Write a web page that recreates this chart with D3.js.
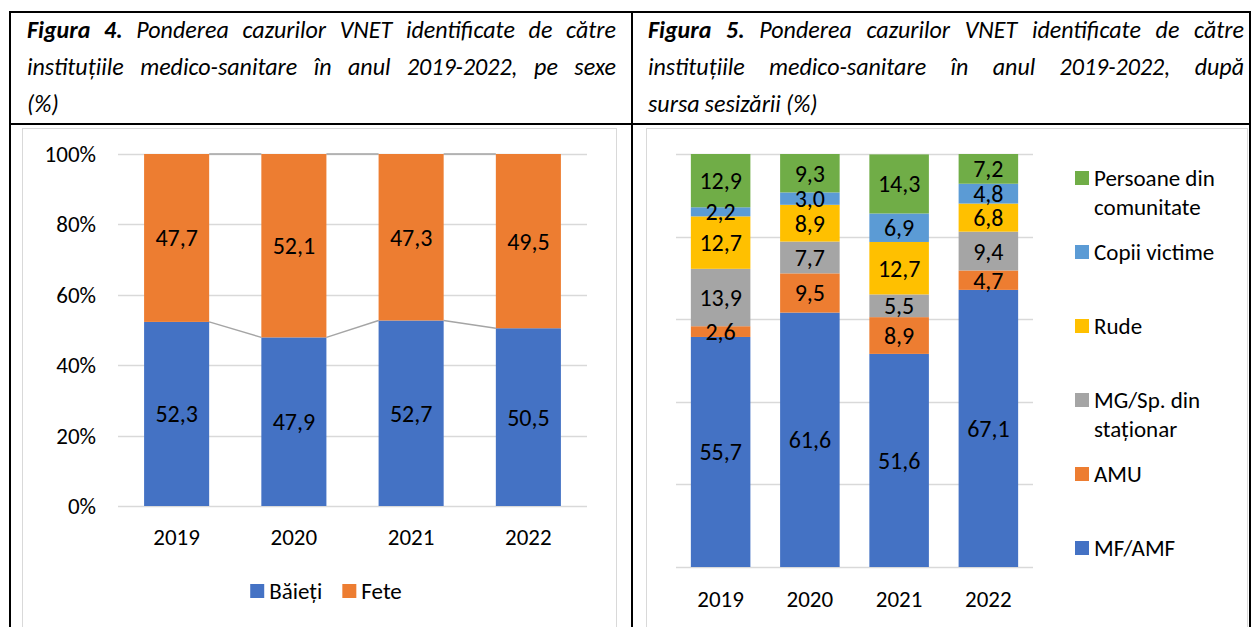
<!DOCTYPE html>
<meta charset="utf-8">
<style>
body { margin: 0; background: #fff; }
svg text { font-family: Calibri, Carlito, Lato, sans-serif; fill: #000; }
.cap { font-style: italic; font-size: 24px; }
.tick { font-size: 23px; }
.lbl { font-size: 24px; text-anchor: middle; dominant-baseline: central; }
.leg { font-size: 23px; dominant-baseline: central; }
</style>
<body>
<script src="https://d3js.org/d3.v7.min.js"></script>
<script>

// ---- data ----
var years = ["2019", "2020", "2021", "2022"];

// Figura 4: pe sexe
var sexes = ["Băieți", "Fete"];
var baieti = [52.3, 47.9, 52.7, 50.5];
var fete = [47.7, 52.1, 47.3, 49.5];
var pctTicks = [0, 20, 40, 60, 80, 100];

// Figura 5: dupa sursa sesizarii (stack order bottom -> top)
var sources = ["MF/AMF", "AMU", "MG/Sp. din staționar", "Rude", "Copii victime", "Persoane din comunitate"];
var mfAmf = [55.7, 61.6, 51.6, 67.1];
var amu = [2.6, 9.5, 8.9, 4.7];
var mgSp = [13.9, 7.7, 5.5, 9.4];
var rude = [12.7, 8.9, 12.7, 6.8];
var copii = [2.2, 3.0, 6.9, 4.8];
var persoane = [12.9, 9.3, 14.3, 7.2];

var caption4 = ["Figura 4. Ponderea cazurilor VNET identificate de către",
                "instituțiile medico-sanitare în anul 2019-2022, pe sexe",
                "(%)"];
var caption5 = ["Figura 5. Ponderea cazurilor VNET identificate de către",
                "instituțiile medico-sanitare în anul 2019-2022, după",
                "sursa sesizării (%)"];

var W = 1251, H = 627;
var fmt = function(v) { return v.toFixed(1).replace(".", ","); };

var svg = d3.select("body").append("svg")
    .attr("width", W)
    .attr("height", H);

// ---- table frame ----
var frame = svg.append("g").attr("stroke", "#000").attr("stroke-width", 2);
frame.append("line").attr("x1", 9).attr("x2", W).attr("y1", 12).attr("y2", 12);
frame.append("line").attr("x1", 9).attr("x2", W).attr("y1", 124).attr("y2", 124);
frame.append("line").attr("x1", 10).attr("x2", 10).attr("y1", 11).attr("y2", H);
frame.append("line").attr("x1", 632).attr("x2", 632).attr("y1", 11).attr("y2", H);
frame.append("line").attr("x1", 1250).attr("x2", 1250).attr("y1", 11).attr("y2", H);

// chart area borders (light gray)
svg.append("rect").attr("x", 22.5).attr("y", 128.5).attr("width", 594).attr("height", 520)
    .attr("fill", "none").attr("stroke", "#d9d9d9");
svg.append("rect").attr("x", 646.5).attr("y", 128.5).attr("width", 601).attr("height", 520)
    .attr("fill", "none").attr("stroke", "#d9d9d9");

// ---- captions, justified like the Word table ----
function caption(lines, x0, x1, y0) {
  var g = svg.append("g").attr("class", "cap");
  lines.forEach(function(line, li) {
    var words = line.split(" ");
    var y = y0 + li * 37;
    var nodes = words.map(function(w, wi) {
      return g.append("text")
          .attr("y", y)
          .style("font-weight", li === 0 && wi < 2 ? "bold" : null)
          .text(w);
    });
    var widths = nodes.map(function(n) { return n.node().getComputedTextLength(); });
    var space = 5;
    var total = d3.sum(widths);
    var last = li === lines.length - 1;
    if (!last && words.length > 1) space = (x1 - x0 - total) / (words.length - 1);
    var x = x0;
    nodes.forEach(function(n, i) {
      n.attr("x", x);
      x += widths[i] + space;
    });
  });
}
caption(caption4, 27, 616, 38);
caption(caption5, 648, 1244, 38);

// ---- Figura 4 ----
var x4 = d3.scaleBand().domain(years).range([118, 587]).paddingInner(0.445).paddingOuter(0.2225);
var y4 = d3.scaleLinear().domain([0, 100]).range([506, 154]);
var c4 = d3.scaleOrdinal().domain(sexes).range(["#4472c4", "#ed7d31"]);

var g4 = svg.append("g");
g4.append("g").selectAll("line").data(pctTicks).join("line")
    .attr("x1", 118).attr("x2", 587)
    .attr("y1", function(d) { return Math.round(y4(d)) + 0.5; })
    .attr("y2", function(d) { return Math.round(y4(d)) + 0.5; })
    .attr("stroke", "#d9d9d9").attr("stroke-width", 1.5);

g4.append("g").attr("class", "tick").selectAll("text").data(pctTicks).join("text")
    .attr("x", 96)
    .attr("y", function(d) { return y4(d); })
    .attr("text-anchor", "end")
    .attr("dominant-baseline", "central")
    .text(function(d) { return d + "%"; });

var rows4 = years.map(function(y, i) { return { year: y, "Băieți": baieti[i], "Fete": fete[i] }; });
var stack4 = d3.stack().keys(sexes)(rows4);

// series lines between bars
stack4.forEach(function(s) {
  for (var i = 0; i < years.length - 1; i++) {
    g4.append("line")
        .attr("x1", x4(years[i]) + x4.bandwidth())
        .attr("x2", x4(years[i + 1]))
        .attr("y1", y4(s[i][1]))
        .attr("y2", y4(s[i + 1][1]))
        .attr("stroke", "#a5a5a5").attr("stroke-width", 1.5);
  }
});

stack4.forEach(function(s) {
  var gs = g4.append("g");
  gs.selectAll("rect").data(s).join("rect")
      .attr("x", function(d) { return x4(d.data.year); })
      .attr("width", x4.bandwidth())
      .attr("y", function(d) { return y4(d[1]); })
      .attr("height", function(d) { return y4(d[0]) - y4(d[1]); })
      .attr("fill", c4(s.key));
  gs.selectAll("text").data(s).join("text")
      .attr("class", "lbl")
      .attr("x", function(d) { return x4(d.data.year) + x4.bandwidth() / 2; })
      .attr("y", function(d) { return y4((d[0] + d[1]) / 2); })
      .text(function(d) { return fmt(d[1] - d[0]); });
});

g4.append("g").attr("class", "tick").selectAll("text").data(years).join("text")
    .attr("x", function(d) { return x4(d) + x4.bandwidth() / 2; })
    .attr("y", 537)
    .attr("text-anchor", "middle")
    .attr("dominant-baseline", "central")
    .text(function(d) { return d; });

// legend centred under the plot
var leg4 = g4.append("g");
var lx = 0;
sexes.forEach(function(k) {
  var it = leg4.append("g").attr("transform", "translate(" + lx + ",0)");
  it.append("rect").attr("x", 0).attr("y", 584).attr("width", 14).attr("height", 14).attr("fill", c4(k));
  var t = it.append("text").attr("class", "leg").attr("x", 19).attr("y", 591).text(k);
  lx += 19 + t.node().getComputedTextLength() + 20;
});
leg4.attr("transform", "translate(" + (326 - (lx - 20) / 2) + ",0)");

// ---- Figura 5 ----
var x5 = d3.scaleBand().domain(years).range([676, 1033]).paddingInner(0.333).paddingOuter(0.1665);
var y5 = d3.scaleLinear().domain([0, 100]).range([567, 154]);
var c5 = d3.scaleOrdinal().domain(sources)
    .range(["#4472c4", "#ed7d31", "#a5a5a5", "#ffc000", "#5b9bd5", "#70ad47"]);

var g5 = svg.append("g");
g5.append("g").selectAll("line").data(pctTicks).join("line")
    .attr("x1", 676).attr("x2", 1033)
    .attr("y1", function(d) { return Math.round(y5(d)) + 0.5; })
    .attr("y2", function(d) { return Math.round(y5(d)) + 0.5; })
    .attr("stroke", "#d9d9d9").attr("stroke-width", 1.5);

var cols5 = [mfAmf, amu, mgSp, rude, copii, persoane];
var rows5 = years.map(function(y, i) {
  var r = { year: y };
  sources.forEach(function(k, j) { r[k] = cols5[j][i]; });
  return r;
});
var stack5 = d3.stack().keys(sources)(rows5);

stack5.forEach(function(s) {
  var gs = g5.append("g");
  gs.selectAll("rect").data(s).join("rect")
      .attr("x", function(d) { return x5(d.data.year); })
      .attr("width", x5.bandwidth())
      .attr("y", function(d) { return y5(d[1]); })
      .attr("height", function(d) { return y5(d[0]) - y5(d[1]); })
      .attr("fill", c5(s.key));
});
stack5.forEach(function(s) {
  g5.append("g").selectAll("text").data(s).join("text")
      .attr("class", "lbl")
      .attr("x", function(d) { return x5(d.data.year) + x5.bandwidth() / 2; })
      .attr("y", function(d) { return y5((d[0] + d[1]) / 2); })
      .text(function(d) { return fmt(d[1] - d[0]); });
});

g5.append("g").attr("class", "tick").selectAll("text").data(years).join("text")
    .attr("x", function(d) { return x5(d) + x5.bandwidth() / 2; })
    .attr("y", 599)
    .attr("text-anchor", "middle")
    .attr("dominant-baseline", "central")
    .text(function(d) { return d; });

// legend, top item = last series
var legLines = {
  "Persoane din comunitate": ["Persoane din", "comunitate"],
  "MG/Sp. din staționar": ["MG/Sp. din", "staționar"]
};
var leg5 = g5.append("g");
sources.slice().reverse().forEach(function(k, i) {
  var cy = 178 + i * 74;
  leg5.append("rect").attr("x", 1075).attr("y", cy - 7).attr("width", 14).attr("height", 14).attr("fill", c5(k));
  (legLines[k] || [k]).forEach(function(t, j) {
    leg5.append("text").attr("class", "leg").attr("x", 1094).attr("y", cy + j * 29).text(t);
  });
});

</script>
